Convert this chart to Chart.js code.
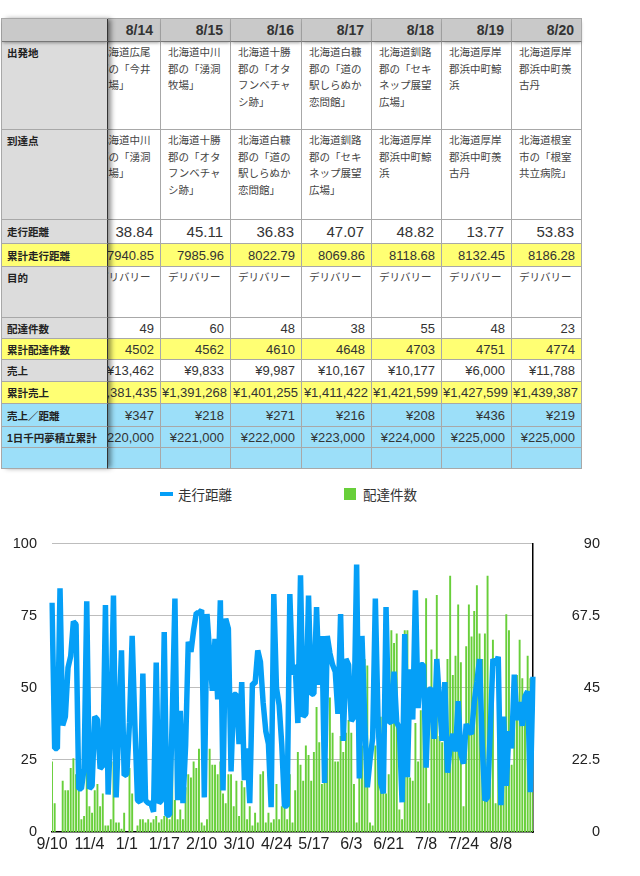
<!DOCTYPE html>
<html lang="ja">
<head>
<meta charset="utf-8">
<script src="https://cdn.jsdelivr.net/npm/chart.js@4.4.1/dist/chart.umd.min.js"></script>
<style>
  body { margin: 0; width: 640px; height: 876px; background: #fff; position: relative; overflow: hidden;
         font-family: "Liberation Sans", "Noto Sans CJK JP", sans-serif; color: #333; }
  .grid { position: absolute; top: 18px; display: grid; border-top: 1px solid #a8a8a8;
          grid-template-rows: 23px 88px 90px 24px 23px 51px 21px 21px 22px 22px 23px 21px 21px; }
  #data { left: 91px; grid-template-columns: 70px 70px 71px 70px 70px 70px 70px; }
  #labels { left: 1px; grid-template-columns: 106px; border-left: 1px solid #a8a8a8; z-index: 3;
            box-shadow: 4px 0 5px -1px rgba(0,0,0,0.45); }
  .c { box-sizing: border-box; border-right: 1px solid #a8a8a8; border-bottom: 1px solid #a8a8a8;
       overflow: hidden; white-space: nowrap; background: #fff; }
  #labels .c { border-right: 1px solid #333; background: #dcdcdc; font-weight: bold; font-size: 10.5px;
               color: #222; padding-left: 5px; display: flex; align-items: center; }
  #labels .c.top { align-items: flex-start; padding-top: 3px; }
  .hdr { background: #c9c9c9 !important; font-weight: bold; font-size: 14px; color: #333;
         display: flex; align-items: center; justify-content: flex-end; padding-right: 7px;
         border-bottom-color: #777 !important; box-shadow: 0 2px 3px -1px rgba(0,0,0,0.35);
         position: relative; z-index: 1; }
  .num { display: flex; align-items: center; justify-content: flex-end; padding-right: 6px; font-size: 13px; }
  .num.wide { padding-right: 3px; }
  .big { font-size: 15px; padding-right: 7px; }
  .jp { font-family: "Noto Sans CJK JP", sans-serif; font-size: 10.5px; line-height: 16.5px;
        padding: 2px 0 0 7px; color: #444; }
  .yel { background: #ffff73 !important; }
  .blu { background: #9cdff9 !important; }
  .lg { position: absolute; }
  .lgt { position: absolute; font-family: "Noto Sans CJK JP", sans-serif; font-size: 13.5px;
         line-height: 18px; color: #333; white-space: nowrap; }
  #chartBox { position: absolute; left: 0; top: 520px; width: 600px; height: 356px; }
</style>
</head>
<body>
<div id="data" class="grid"></div>
<div id="labels" class="grid"></div>

<div class="lg" id="lgLine" style="left:160px;top:492px;width:13px;height:4px;"></div>
<div class="lgt" style="left:178px;top:485px;">走行距離</div>
<div class="lg" id="lgBar" style="left:344px;top:488px;width:12px;height:12px;"></div>
<div class="lgt" style="left:363px;top:485px;">配達件数</div>

<div id="chartBox"><canvas id="chart" width="600" height="356"></canvas></div>

<script>
// ---- table ----
const dates = ['8/14', '8/15', '8/16', '8/17', '8/18', '8/19', '8/20'];
const departures = [
  '北海道広尾<br>郡の「今井<br>牧場」',
  '北海道中川<br>郡の「湧洞<br>牧場」',
  '北海道十勝<br>郡の「オタ<br>フンベチャ<br>シ跡」',
  '北海道白糠<br>郡の「道の<br>駅しらぬか<br>恋問館」',
  '北海道釧路<br>郡の「セキ<br>ネップ展望<br>広場」',
  '北海道厚岸<br>郡浜中町鯨<br>浜',
  '北海道厚岸<br>郡浜中町羨<br>古丹'
];
const arrivals = [
  '北海道中川<br>郡の「湧洞<br>牧場」',
  '北海道十勝<br>郡の「オタ<br>フンベチャ<br>シ跡」',
  '北海道白糠<br>郡の「道の<br>駅しらぬか<br>恋問館」',
  '北海道釧路<br>郡の「セキ<br>ネップ展望<br>広場」',
  '北海道厚岸<br>郡浜中町鯨<br>浜',
  '北海道厚岸<br>郡浜中町羨<br>古丹',
  '北海道根室<br>市の「根室<br>共立病院」'
];
const dayDistance = ['38.84', '45.11', '36.83', '47.07', '48.82', '13.77', '53.83'];
const totalDistance = ['7940.85', '7985.96', '8022.79', '8069.86', '8118.68', '8132.45', '8186.28'];
const purpose = ['デリバリー', 'デリバリー', 'デリバリー', 'デリバリー', 'デリバリー', 'デリバリー', 'デリバリー'];
const dayCount = ['49', '60', '48', '38', '55', '48', '23'];
const totalCount = ['4502', '4562', '4610', '4648', '4703', '4751', '4774'];
const sales = ['¥13,462', '¥9,833', '¥9,987', '¥10,167', '¥10,177', '¥6,000', '¥11,788'];
const totalSales = ['¥1,381,435', '¥1,391,268', '¥1,401,255', '¥1,411,422', '¥1,421,599', '¥1,427,599', '¥1,439,387'];
const salesPerKm = ['¥347', '¥218', '¥271', '¥216', '¥208', '¥436', '¥219'];
const savings = ['¥220,000', '¥221,000', '¥222,000', '¥223,000', '¥224,000', '¥225,000', '¥225,000'];
const blank = ['', '', '', '', '', '', ''];

const rows = [
  { label: '', cells: dates, kind: 'hdr' },
  { label: '出発地', cells: departures, kind: 'jp', top: true },
  { label: '到達点', cells: arrivals, kind: 'jp', top: true },
  { label: '走行距離', cells: dayDistance, kind: 'num big' },
  { label: '累計走行距離', cells: totalDistance, kind: 'num', bg: 'yel' },
  { label: '目的', cells: purpose, kind: 'jp', top: true },
  { label: '配達件数', cells: dayCount, kind: 'num' },
  { label: '累計配達件数', cells: totalCount, kind: 'num', bg: 'yel' },
  { label: '売上', cells: sales, kind: 'num' },
  { label: '累計売上', cells: totalSales, kind: 'num wide', bg: 'yel' },
  { label: '売上／距離', cells: salesPerKm, kind: 'num', bg: 'blu' },
  { label: '1日千円夢積立累計', cells: savings, kind: 'num', bg: 'blu' },
  { label: '', cells: blank, kind: 'num', bg: 'blu' },
];

let dataHtml = '', labelHtml = '';
rows.forEach((r) => {
  const bg = r.bg || '';
  const lcls = r.kind === 'hdr' ? 'c hdr' : `c ${bg} ${r.top ? 'top' : ''}`;
  labelHtml += `<div class="${lcls}">${r.label}</div>`;
  r.cells.forEach((v) => {
    dataHtml += `<div class="c ${r.kind} ${bg}">${v}</div>`;
  });
});
document.getElementById('data').innerHTML = dataHtml;
document.getElementById('labels').innerHTML = labelHtml;

// ---- chart data ----
const tickLabels = ['9/10', '11/4', '1/1', '1/17', '2/10', '3/10', '4/24', '5/17', '6/3', '6/21', '7/8', '7/24', '8/8'];
const TICK_EVERY = 14;

// 走行距離 (km), left axis
const distance = [
  79.5, 29, 29, 84.5, 37, 40, 57, 61, 73, 72,
  15, 15, 22, 80, 15, 16, 40, 39, 22, 23,
  78.7, 13, 36, 82, 12, 37, 63, 19.6, 20, 38,
  68, 37.5, 11, 10.3, 55, 11, 10, 10, 7, 58.8,
  10, 11, 69.4, 5.8, 6, 40, 81, 11, 42, 10,
  30, 66, 62.5, 70, 76, 76, 77, 12, 75.6, 62,
  49, 67, 46, 80.4, 14.4, 74, 70.5, 21, 47.7, 47.7,
  30.5, 52, 18, 29, 10, 51.5, 51.5, 63, 59, 45,
  35, 30.5, 8.6, 82.5, 50, 44, 30, 9, 9, 82.5,
  54.6, 58, 37.8, 89, 40, 41, 82, 47.7, 48, 78,
  51, 68, 17, 68, 62, 58, 55.6, 41, 75.6, 31.6,
  60, 58, 38.5, 40, 92.8, 18.6, 68, 39.5, 15.5, 25,
  32.6, 81, 39.5, 17, 13.4, 78, 38.5, 37.8, 55.6, 38,
  36, 10.3, 68.7, 19, 56.4, 39, 83.8, 43, 58, 58,
  22.3, 49.5, 49.5, 32.3, 60, 45, 31.6, 52, 20.6, 30,
  34, 28, 45.4, 27, 23.7, 37.5, 35, 34, 45, 52,
  60, 30, 11, 12, 35, 60, 58, 60.8, 9.3, 40,
  16, 35, 29, 54.6, 38.84, 45.11, 36.83, 47.07, 48.82, 13.77, 53.83
];

// 配達件数, right axis
const deliveries = [
  22, 9, 0, 0, 16, 13, 13, 20, 23, 18,
  13, 4, 5, 20, 8, 6, 13, 15, 8, 12,
  2, 2, 4, 22, 3, 3, 1, 6, 0, 20,
  12, 0, 2, 4, 4, 3, 4, 3, 4, 5,
  3, 4, 5, 9, 4, 25, 10, 4, 7, 4,
  14, 18, 17, 22, 20, 26, 3, 2, 4, 26,
  21, 21, 18, 22, 12, 9, 18, 18, 8, 16,
  5, 16, 14, 4, 8, 2, 6, 3, 18, 19,
  3, 6, 3, 4, 15, 4, 8, 9, 4, 18,
  3, 13, 25, 21, 16, 27, 24, 16, 25, 39,
  28, 15, 21, 23, 42, 31, 22, 22, 30, 25,
  31, 35, 31, 15, 3, 21, 27, 54, 52, 3,
  2, 27, 31, 36, 38, 12, 18, 63, 59, 62,
  7, 4, 63, 63, 17, 16, 34, 22, 38, 39,
  73, 9, 57, 36, 74, 30, 28, 31, 54, 80,
  49, 55, 71, 53, 8, 58, 71, 61, 69, 77,
  62, 54, 62, 80, 43, 60, 9, 33, 29, 31,
  68, 63, 21, 37, 49, 60, 48, 38, 55, 48, 23
];

const days = distance.map((_, i) => i);

const BLUE = '#059ff7';
const GREEN = '#68cf3a';
document.getElementById('lgLine').style.background = BLUE;
document.getElementById('lgBar').style.background = GREEN;

new Chart(document.getElementById('chart'), {
  data: {
    labels: days,
    datasets: [
      {
        type: 'line',
        label: '走行距離',
        data: distance,
        yAxisID: 'yDist',
        borderColor: BLUE,
        borderWidth: 5.5,
        borderJoinStyle: 'bevel',
        pointRadius: 0,
        tension: 0,
        order: 0,
      },
      {
        type: 'bar',
        label: '配達件数',
        data: deliveries,
        yAxisID: 'yCount',
        backgroundColor: GREEN,
        categoryPercentage: 1,
        barPercentage: 0.72,
        order: 1,
      },
    ],
  },
  options: {
    responsive: false,
    animation: false,
    layout: { padding: { top: 20, left: 0, right: 0, bottom: 0 } },
    plugins: { legend: { display: false }, tooltip: { enabled: false } },
    scales: {
      x: {
        type: 'category',
        offset: false,
        grid: { display: false, drawTicks: false },
        border: { color: '#000', width: 1.5 },
        ticks: {
          autoSkip: false,
          maxRotation: 0,
          padding: 3,
          color: '#222',
          font: { family: 'Liberation Sans', size: 16 },
          callback: (v, i) => (i % TICK_EVERY === 0 ? tickLabels[i / TICK_EVERY] : null),
        },
        afterFit(scale) { scale.height = 44; },
      },
      yDist: {
        position: 'left',
        min: 0,
        max: 100,
        grid: {
          drawTicks: false,
          color: (c) => (c.tick && c.tick.value === 0 ? 'rgba(0,0,0,0)' : '#bdbdbd'),
        },
        border: { display: false },
        ticks: { stepSize: 25, padding: 15, color: '#222', font: { family: 'Liberation Sans', size: 14.5 } },
        afterFit(scale) { scale.width = 52; },
      },
      yCount: {
        position: 'right',
        min: 0,
        max: 90,
        grid: { display: false, drawTicks: false },
        border: { color: '#000', width: 1.5 },
        ticks: { stepSize: 22.5, padding: 14, crossAlign: 'far', color: '#222', font: { family: 'Liberation Sans', size: 14.5 } },
        afterFit(scale) { scale.width = 67; },
      },
    },
  },
});
</script>
</body>
</html>
